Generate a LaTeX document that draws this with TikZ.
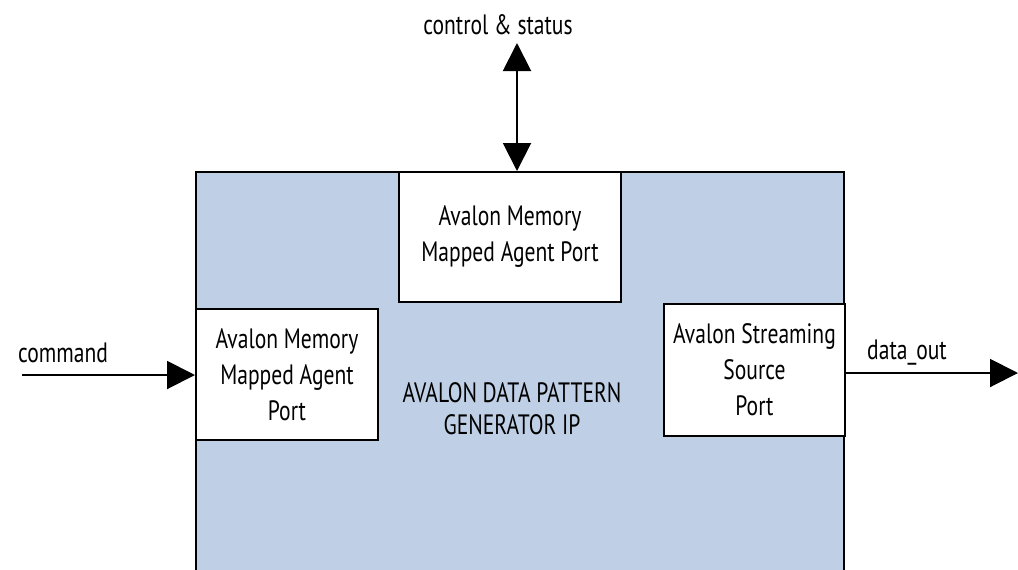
\documentclass[tikz,border=0pt]{standalone}
\usepackage{fontspec}
\setmainfont[FakeStretch=0.77]{PT Sans}
\usetikzlibrary{arrows.meta}
\definecolor{ipblue}{HTML}{BFCFE5}
\begin{document}
\begin{tikzpicture}[x=0.75pt,y=-0.75pt,
  portbox/.style={draw=black,line width=1.5pt,fill=white,inner sep=0pt,align=center,font=\fontsize{21}{27}\selectfont},
  lbl/.style={font=\fontsize{21}{27}\selectfont,inner sep=0pt},
  arr/.style={line width=1.5pt,-{Triangle[length=21pt,width=21pt]}}]
\useasboundingbox (0,0) rectangle (1018,569);
% main IP block (bottom edge beyond the picture)
\path[fill=ipblue] (196,172) rectangle (844,575);
\draw[line width=1.5pt] (196,575) -- (196,172) -- (844,172) -- (844,575);
\node[lbl,align=center,font=\fontsize{21}{24}\selectfont] (ip) at (512,409) {AVALON DATA PATTERN\\GENERATOR IP};
% ports
\node[portbox,minimum width=222*0.75pt,minimum height=130*0.75pt] (top) at (510,237) {Avalon Memory\\Mapped Agent Port};
\node[portbox,minimum width=182*0.75pt,minimum height=131*0.75pt] (left) at (287,374.5) {Avalon Memory\\Mapped Agent\\Port};
\node[portbox,minimum width=181*0.75pt,minimum height=132*0.75pt] (right) at (754.5,370) {Avalon Streaming\\Source\\Port};
% external points
\coordinate (cmdin) at (22,375);
\coordinate (dout) at (1018,373);
\coordinate (ctl) at (517,43);
\draw[arr] (cmdin) -- (cmdin -| left.west);
\draw[arr] (right.east |- dout) -- (dout);
\draw[line width=1.5pt,{Triangle[length=21pt,width=21pt]}-{Triangle[length=21pt,width=21pt]}] (ctl) -- (ctl |- top.north);
% labels
\node[lbl] (cmd) at (63,353) {command};
\node[lbl] (dol) at (907,353) {data\_out};
\node[lbl] (cs) at (498,25) {control \& status};
\end{tikzpicture}
\end{document}
